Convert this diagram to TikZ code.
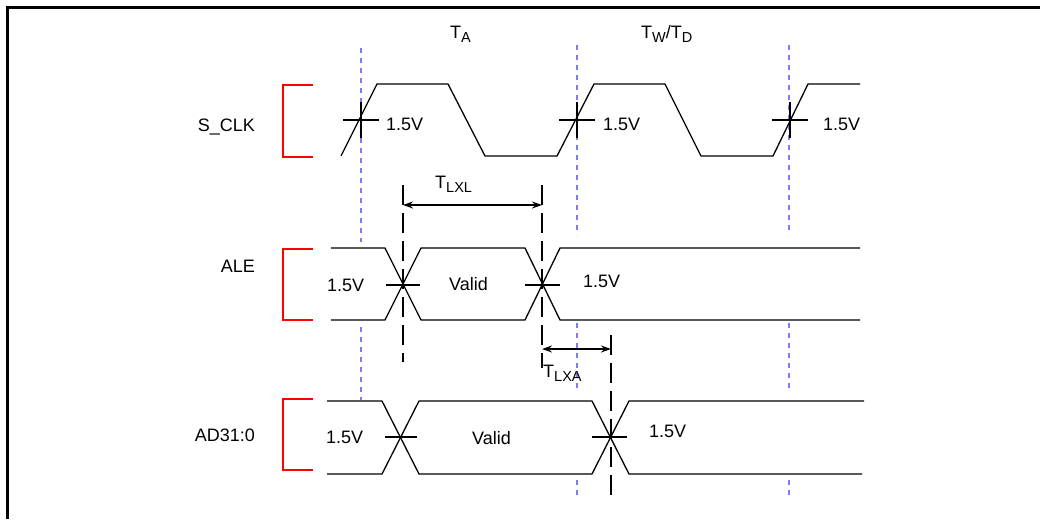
\documentclass[tikz,border=0pt]{standalone}
\usepackage{fontspec}
\setmainfont{Liberation Sans}
\usetikzlibrary{arrows.meta}
\definecolor{guideblue}{RGB}{125,125,250}
\newcommand{\lowtxt}[1]{\raisebox{-0.25em}{\fontsize{14.5}{14.5}\selectfont #1}}
\tikzset{
  sig/.style={line width=1.3pt},
  tickline/.style={line width=2.4pt},
  brkt/.style={red, line width=2pt},
  guide/.style={guideblue, line width=1.6pt, dash pattern=on 5pt off 5pt},
  edgeline/.style={line width=2pt, dash pattern=on 20pt off 8pt},
  dim/.style={{Stealth[length=10pt,width=7pt]}-{Stealth[length=10pt,width=7pt]}, line width=1.5pt},
  lbl/.style={font=\fontsize{18}{20}\selectfont, inner sep=0pt}
}
\begin{document}
\begin{tikzpicture}[x=1pt,y=-1pt]
  \useasboundingbox (0,0) rectangle (1040,519);
  % frame
  \draw[line width=3pt] (7,519) -- (7,8) -- (1040,8);
  % guides
  \draw[guide] (361,48) -- (361,242) (361,327) -- (361,400);
  \foreach \x in {577,789}
    \draw[guide] (\x,45) -- (\x,235) (\x,323) -- (\x,392) (\x,480) -- (\x,498);
  % brackets and names
  \foreach \n/\t/\b/\s/\y in {clk/85/157/S\_CLK/131, ale/249/320/ALE/272, ad/399/470/AD31:0/441}{
    \draw[brkt] (313,\t) -- (283,\t) -- (283,\b) -- (313,\b);
    \node[lbl, anchor=base east] (\n) at (255,\y) {\s};
  }
  % S_CLK
  \draw[sig] (341,156) -- (377,84) -- (448,84) -- (485,156) -- (557,156) -- (594,84)
    -- (665,84) -- (701,156) -- (773,156) -- (808,84) -- (860,84);
  \foreach \x/\v in {361/386, 577/603, 790/823}{
    \draw[tickline] (\x-18,120) -- (\x+18,120) (\x,102) -- (\x,138);
    \node[lbl, anchor=base west] at (\v,130) {1.5V};
  }
  \node[lbl, anchor=base west] (ta) at (450,38) {T\lowtxt{A}};
  \node[lbl, anchor=base west] (twd) at (641,38) {T\lowtxt{W}/T\lowtxt{D}};
  % ALE
  \draw[sig] (331,248) -- (385,248) -- (421,320) -- (525,320) -- (560,248) -- (860,248);
  \draw[sig] (331,320) -- (385,320) -- (421,248) -- (525,248) -- (560,320) -- (860,320);
  \draw[tickline] (386,285) -- (420,285) (525,285) -- (560,285);
  \node[lbl, anchor=base west] (aleL) at (327,291) {1.5V};
  \node[lbl, anchor=base west] (aleV) at (449,290) {Valid};
  \node[lbl, anchor=base west] (aleR) at (583,287) {1.5V};
  % AD31:0
  \draw[sig] (327,401) -- (382,401) -- (419,474) -- (592,474) -- (629,401) -- (864,401);
  \draw[sig] (327,474) -- (382,474) -- (419,401) -- (592,401) -- (629,474) -- (862,474);
  \draw[tickline] (385,437) -- (417,437) (592,437) -- (627,437);
  \node[lbl, anchor=base west] (adL) at (326,443) {1.5V};
  \node[lbl, anchor=base west] (adV) at (472,444) {Valid};
  \node[lbl, anchor=base west] (adR) at (649,437) {1.5V};
  % timing marks
  \draw[edgeline] (403,185) -- (403,362);
  \draw[edgeline] (542,185) -- (542,368);
  \draw[edgeline] (611,335) -- (611,498);
  \coordinate (lxlA) at (403,205);
  \coordinate (lxlB) at (542,205);
  \coordinate (lxaA) at (542,349);
  \coordinate (lxaB) at (611,349);
  \draw[dim] (lxlA) -- (lxlB);
  \draw[dim] (lxaA) -- (lxaB);
  \node[lbl, anchor=base west] (lxl) at (435,188) {T\lowtxt{LXL}};
  \node[lbl, anchor=base west] (lxa) at (543,377) {T\lowtxt{LXA}};
\end{tikzpicture}
\end{document}
